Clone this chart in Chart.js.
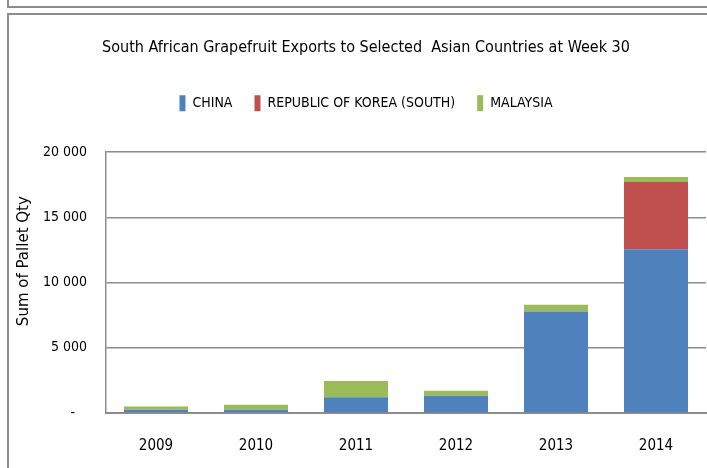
<!DOCTYPE html>
<html>
<head>
<meta charset="utf-8">
<script src="https://cdn.jsdelivr.net/npm/chart.js@4.4.1/dist/chart.umd.min.js"></script>
<style>
  html, body { margin: 0; padding: 0; background: #fff; }
  #wrap { position: relative; width: 707px; height: 468px; overflow: hidden; }
  .frame { position: absolute; box-sizing: border-box; border: 2px solid #8c8c8c; }
  #topBox { left: 7px; top: -10px; width: 720px; height: 18px; }
  #mainBox { left: 7px; top: 13px; width: 720px; height: 470px; }
  canvas { position: absolute; left: 0; top: 0; }
</style>
</head>
<body>
<div id="wrap">
  <div class="frame" id="topBox"></div>
  <div class="frame" id="mainBox"></div>
  <canvas id="myChart" width="707" height="468"></canvas>
</div>
<script>
const years = ["2009", "2010", "2011", "2012", "2013", "2014"];
const china = [250, 250, 1200, 1330, 7790, 12550];
const korea = [0, 0, 0, 0, 0, 5170];
const malaysia = [255, 390, 1250, 380, 510, 370];
const yTicks = [0, 5000, 10000, 15000, 20000];

const narrow = "'Liberation Sans Narrow', 'DejaVu Sans Condensed', sans-serif";

const fmt = (v) => {
  if (v === 0) return "-   ";
  return String(v).replace(/\B(?=(\d{3})+(?!\d))/g, " ");
};

// shift title + legend a bit right, they sit off-centre in the original
const nudge = {
  id: "nudge",
  afterInit(chart) {
    const lg = chart.legend;
    const f = lg.fit;
    lg.fit = function () {
      f.call(this);
      this.height += 31;
    };
  },
  afterLayout(chart) {
    [chart.titleBlock, chart.legend].forEach((b) => {
      if (!b) return;
      b.left += 13;
      b.right += 13;
    });
  },
};

const ctx = document.getElementById("myChart").getContext("2d");
new Chart(ctx, {
  type: "bar",
  data: {
    labels: years,
    datasets: [
      { label: "CHINA", data: china, backgroundColor: "#4F81BD" },
      { label: "REPUBLIC OF KOREA (SOUTH)", data: korea, backgroundColor: "#C0504D" },
      { label: "MALAYSIA", data: malaysia, backgroundColor: "#9BBB59" },
    ],
  },
  options: {
    responsive: false,
    animation: false,
    layout: { padding: { left: 0, right: 1, top: 0, bottom: 0 } },
    datasets: {
      bar: { categoryPercentage: 1, barPercentage: 0.64, borderWidth: 0 },
    },
    plugins: {
      title: {
        display: true,
        text: "South African Grapefruit Exports to Selected  Asian Countries at Week 30",
        color: "#000",
        font: { family: narrow, size: 16, weight: "normal" },
        padding: { top: 38, bottom: 16 },
      },
      legend: {
        display: true,
        position: "top",
        labels: {
          boxWidth: 6,
          boxHeight: 16,
          padding: 22,
          color: "#000",
          font: { family: narrow, size: 14 },
        },
      },
      tooltip: { enabled: false },
    },
    scales: {
      x: {
        stacked: true,
        grid: { display: false, drawTicks: false },
        border: { display: true, color: "#8c8c8c", width: 2 },
        ticks: {
          color: "#000",
          padding: 24,
          font: { family: narrow, size: 15 },
        },
        afterFit(scale) {
          scale.height = 55;
        },
      },
      y: {
        stacked: true,
        min: 0,
        max: 20000,
        afterBuildTicks(scale) {
          scale.ticks = yTicks.map((v) => ({ value: v }));
        },
        grid: { color: "#8c8c8c", lineWidth: 1.5, drawTicks: false },
        border: { display: true, color: "#8c8c8c", width: 1.5 },
        ticks: {
          color: "#000",
          padding: 19,
          font: { family: narrow, size: 14 },
          callback: (v) => fmt(v),
        },
        title: {
          display: true,
          text: "         Sum of Pallet Qty",
          color: "#000",
          font: { family: "'DejaVu Sans', sans-serif", size: 15 },
          padding: { top: 15, bottom: 0 },
        },
        afterFit(scale) {
          scale.width = 106;
        },
      },
    },
  },
  plugins: [nudge],
});
</script>
</body>
</html>
